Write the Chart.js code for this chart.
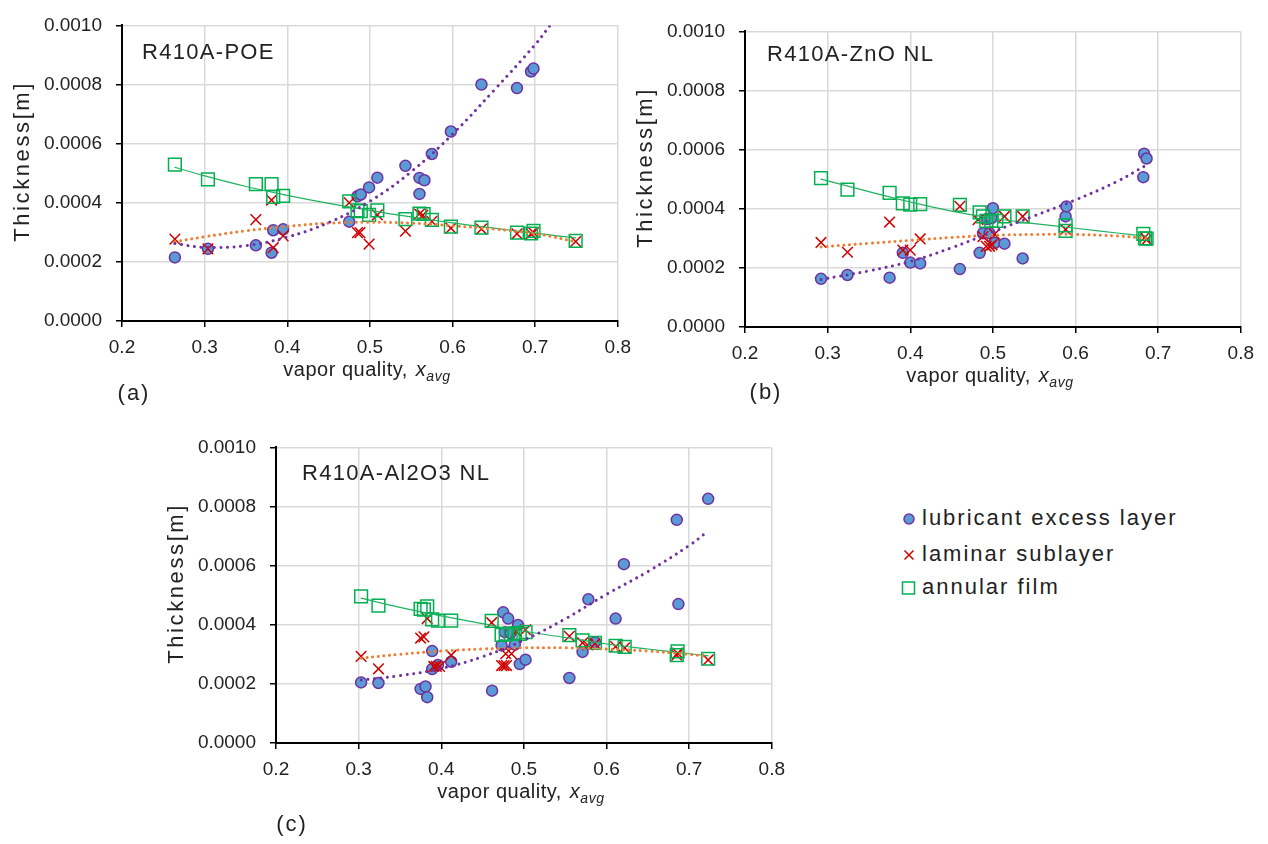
<!DOCTYPE html>
<html>
<head>
<meta charset="utf-8">
<script src="https://cdn.jsdelivr.net/npm/chart.js@4.4.1/dist/chart.umd.min.js"></script>
<style>
  body { margin: 0; width: 1268px; height: 844px; background: #fff; position: relative; overflow: hidden;
         font-family: "Liberation Sans", Arial, sans-serif; color: #222; }
  canvas { position: absolute; }
  #legend { position: absolute; left: 900px; top: 0; }
  #legend .row { position: absolute; left: 0; height: 26px; line-height: 26px; white-space: nowrap;
                 font-size: 22px; letter-spacing: 2px; }
  #legend svg { position: absolute; left: 0; top: 6px; }
  #legend span { position: absolute; left: 22px; top: 0; }
</style>
</head>
<body>
<canvas id="chartA" width="640" height="420" style="left:0px;top:0px"></canvas>
<canvas id="chartB" width="640" height="420" style="left:623px;top:6px"></canvas>
<canvas id="chartC" width="640" height="420" style="left:154px;top:422px"></canvas>

<div id="legend">
  <div class="row" style="top:505px"><svg width="16" height="16"><circle cx="9" cy="8" r="5" fill="#5b9bd5" stroke="#7030a0" stroke-width="1.5"/></svg><span>lubricant excess layer</span></div>
  <div class="row" style="top:541px"><svg width="16" height="16"><path d="M4.5 3.5 L13.5 12.5 M13.5 3.5 L4.5 12.5" stroke="#d00000" stroke-width="1.5"/></svg><span>laminar sublayer</span></div>
  <div class="row" style="top:574px"><svg width="16" height="16"><rect x="2.5" y="2" width="12" height="12" fill="none" stroke="#00b050" stroke-width="1.5"/></svg><span>annular film</span></div>
</div>

<script>
// ---- R410A-POE ----
const poeLubX = [0.264, 0.304, 0.362, 0.381, 0.383, 0.395, 0.475, 0.485, 0.489, 0.499, 0.509, 0.543, 0.560, 0.566, 0.560, 0.575, 0.598, 0.635, 0.678, 0.695, 0.698];
const poeLubY = [0.000215, 0.000244, 0.000256, 0.000231, 0.000307, 0.000310, 0.000336, 0.000422, 0.000428, 0.000452, 0.000485, 0.000525, 0.000484, 0.000476, 0.000430, 0.000565, 0.000641, 0.000800, 0.000788, 0.000844, 0.000854];
const poeLamX = [0.264, 0.304, 0.362, 0.381, 0.383, 0.395, 0.475, 0.485, 0.488, 0.499, 0.509, 0.543, 0.560, 0.564, 0.575, 0.598, 0.635, 0.678, 0.695, 0.698, 0.749];
const poeLamY = [0.000277, 0.000244, 0.000343, 0.000409, 0.000248, 0.000288, 0.000400, 0.000299, 0.000299, 0.000260, 0.000359, 0.000304, 0.000362, 0.000358, 0.000337, 0.000314, 0.000311, 0.000295, 0.000295, 0.000299, 0.000269];
const poeAnnX = [0.264, 0.304, 0.362, 0.381, 0.383, 0.395, 0.475, 0.485, 0.489, 0.499, 0.509, 0.543, 0.560, 0.565, 0.575, 0.598, 0.635, 0.678, 0.695, 0.698, 0.749];
const poeAnnY = [0.000529, 0.000479, 0.000463, 0.000463, 0.000420, 0.000423, 0.000405, 0.000374, 0.000372, 0.000359, 0.000374, 0.000345, 0.000363, 0.000362, 0.000342, 0.000319, 0.000316, 0.000299, 0.000296, 0.000305, 0.000271];
// trend lines
const poeLubFitX = [0.264, 0.30, 0.35, 0.40, 0.45, 0.50, 0.55, 0.60, 0.65, 0.70, 0.718];
const poeLubFitY = [0.000262, 0.000249, 0.000255, 0.000284, 0.000333, 0.000405, 0.000505, 0.000632, 0.000780, 0.000935, 0.001000];
const poeFitX = [0.264, 0.30, 0.35, 0.40, 0.45, 0.50, 0.55, 0.60, 0.65, 0.70, 0.749];
const poeLamFitY = [0.000268, 0.000285, 0.000305, 0.000320, 0.000331, 0.000334, 0.000331, 0.000322, 0.000311, 0.000296, 0.000268];
const poeAnnFitY = [0.000520, 0.000491, 0.000455, 0.000425, 0.000398, 0.000374, 0.000352, 0.000332, 0.000314, 0.000297, 0.000281];

// ---- R410A-ZnO NL ----
const znoLubX = [0.292, 0.324, 0.375, 0.391, 0.400, 0.412, 0.460, 0.484, 0.488, 0.493, 0.496, 0.498, 0.500, 0.502, 0.514, 0.536, 0.588, 0.589, 0.682, 0.683, 0.686];
const znoLubY = [0.000163, 0.000176, 0.000167, 0.000251, 0.000218, 0.000215, 0.000196, 0.000251, 0.000317, 0.000365, 0.000317, 0.000368, 0.000402, 0.000284, 0.000282, 0.000232, 0.000374, 0.000408, 0.000507, 0.000586, 0.000570];
const znoLamX = [0.292, 0.324, 0.375, 0.391, 0.400, 0.412, 0.460, 0.482, 0.488, 0.492, 0.496, 0.499, 0.502, 0.514, 0.536, 0.588, 0.684, 0.686];
const znoLamY = [0.000286, 0.000253, 0.000355, 0.000260, 0.000260, 0.000298, 0.000408, 0.000363, 0.000306, 0.000273, 0.000273, 0.000278, 0.000314, 0.000374, 0.000374, 0.000330, 0.000304, 0.000295];
const znoAnnX = [0.292, 0.324, 0.375, 0.391, 0.400, 0.412, 0.460, 0.484, 0.488, 0.492, 0.498, 0.504, 0.514, 0.536, 0.588, 0.588, 0.682, 0.684, 0.686];
const znoAnnY = [0.000504, 0.000465, 0.000454, 0.000418, 0.000414, 0.000416, 0.000413, 0.000388, 0.000374, 0.000359, 0.000359, 0.000359, 0.000374, 0.000374, 0.000344, 0.000325, 0.000315, 0.000300, 0.000299];
const znoFitX = [0.292, 0.35, 0.40, 0.45, 0.50, 0.55, 0.60, 0.65, 0.686];
const znoLubFitY = [0.000161, 0.000190, 0.000222, 0.000268, 0.000322, 0.000376, 0.000430, 0.000492, 0.000548];
const znoLamFitY = [0.000271, 0.000283, 0.000293, 0.000303, 0.000310, 0.000313, 0.000313, 0.000308, 0.000300];
const znoAnnFitY = [0.000500, 0.000458, 0.000423, 0.000392, 0.000368, 0.000350, 0.000334, 0.000318, 0.000307];

// ---- R410A-Al2O3 NL ----
const aloLubX = [0.303, 0.324, 0.375, 0.381, 0.383, 0.389, 0.389, 0.396, 0.412, 0.4615, 0.473, 0.475, 0.477, 0.481, 0.484, 0.489, 0.493, 0.495, 0.502, 0.555, 0.571, 0.578, 0.586, 0.611, 0.621, 0.685, 0.687, 0.723];
const aloLubY = [0.000205, 0.000203, 0.000183, 0.000191, 0.000155, 0.000311, 0.000250, 0.000264, 0.000275, 0.000177, 0.000330, 0.000442, 0.000375, 0.000421, 0.000372, 0.000333, 0.000399, 0.000267, 0.000282, 0.000220, 0.000308, 0.000486, 0.000341, 0.000421, 0.000605, 0.000755, 0.000470, 0.000826];
const aloLamX = [0.303, 0.324, 0.375, 0.379, 0.383, 0.391, 0.394, 0.398, 0.412, 0.461, 0.473, 0.476, 0.478, 0.479, 0.485, 0.491, 0.502, 0.555, 0.571, 0.577, 0.586, 0.611, 0.622, 0.685, 0.686, 0.723];
const aloLamY = [0.000293, 0.000251, 0.000355, 0.000359, 0.000421, 0.000259, 0.000259, 0.000259, 0.000297, 0.000407, 0.000262, 0.000262, 0.000302, 0.000262, 0.000302, 0.000377, 0.000383, 0.000361, 0.000339, 0.000332, 0.000336, 0.000326, 0.000322, 0.000297, 0.000304, 0.000281];
const aloAnnX = [0.303, 0.324, 0.375, 0.379, 0.383, 0.389, 0.396, 0.412, 0.461, 0.473, 0.478, 0.484, 0.489, 0.495, 0.502, 0.555, 0.571, 0.586, 0.611, 0.622, 0.685, 0.686, 0.723];
const aloAnnY = [0.000496, 0.000465, 0.000454, 0.000451, 0.000462, 0.000418, 0.000414, 0.000414, 0.000413, 0.000366, 0.000368, 0.000369, 0.000371, 0.000369, 0.000375, 0.000365, 0.000347, 0.000339, 0.000329, 0.000325, 0.000297, 0.000310, 0.000285];
const aloFitX = [0.303, 0.35, 0.40, 0.45, 0.50, 0.55, 0.60, 0.65, 0.70, 0.723];
const aloLubFitY = [0.000213, 0.000228, 0.000252, 0.000292, 0.000348, 0.000420, 0.000503, 0.000580, 0.000668, 0.000717];
const aloLamFitY = [0.000287, 0.000300, 0.000311, 0.000318, 0.000322, 0.000322, 0.000318, 0.000311, 0.000300, 0.000293];
const aloAnnFitY = [0.000490, 0.000459, 0.000430, 0.000404, 0.000378, 0.000357, 0.000335, 0.000318, 0.000302, 0.000295];

const xTicks = { min: 0.2, max: 0.8, step: 0.1 };
const yTicks = { min: 0, max: 0.001, step: 0.0002 };

const TEXT = '#222';
const FONT = '"Liberation Sans", Arial, sans-serif';

const pts = (xs, ys) => xs.map((x, i) => ({ x, y: ys[i] }));

// dotted / solid trend line through the read points
function fitLine(xs, ys, color, dotted, gap) {
  return {
    data: pts(xs, ys),
    showLine: true,
    borderColor: color,
    borderWidth: dotted ? 3 : 1.2,
    borderDash: dotted ? [0.01, gap] : [],
    borderCapStyle: 'round',
    pointRadius: 0,
    tension: 0.4
  };
}

function buildDatasets(p) {
  // index 0 is painted last, so trend lines go first and the circles last
  return [
    fitLine(p.lubFitX, p.lubFitY, '#7030a0', true, 6.6),
    fitLine(p.fitX, p.lamFitY, '#ed7d31', true, 5.7),
    fitLine(p.fitX, p.annFitY, '#1fb25f', false),
    {
      label: 'annular film', data: pts(p.annX, p.annY),
      pointStyle: 'rect', pointRadius: 9, borderColor: '#00b050',
      backgroundColor: 'rgba(0,0,0,0)', borderWidth: 1.5
    },
    {
      label: 'laminar sublayer', data: pts(p.lamX, p.lamY),
      pointStyle: 'crossRot', pointRadius: 7.5, borderColor: '#d00000', borderWidth: 1.5
    },
    {
      label: 'lubricant excess layer', data: pts(p.lubX, p.lubY),
      pointStyle: 'circle', pointRadius: 5.5, backgroundColor: '#5b9bd5',
      borderColor: '#7030a0', borderWidth: 1.5
    }
  ];
}

// titles, panel letter and the x_avg axis title drawn onto the canvas
const panelText = {
  id: 'panelText',
  afterDraw(chart, args, o) {
    const ctx = chart.ctx;
    const a = chart.chartArea;
    ctx.save();
    ctx.fillStyle = TEXT;

    ctx.font = '22px ' + FONT;
    ctx.letterSpacing = '1.3px';
    ctx.textAlign = 'left';
    ctx.textBaseline = 'alphabetic';
    ctx.fillText(o.inset, a.left + o.insetDx, a.top + o.insetDy);

    ctx.letterSpacing = '2px';
    ctx.textAlign = 'center';
    ctx.fillText(o.letter, o.letterX, o.letterY);

    // y title
    ctx.save();
    ctx.translate(a.left - 99, a.top + 136);
    ctx.rotate(-Math.PI / 2);
    ctx.letterSpacing = '2.6px';
    ctx.textBaseline = 'middle';
    ctx.fillText('Thickness[m]', 0, 0);
    ctx.restore();

    // x title with italic subscript
    ctx.textAlign = 'left';
    ctx.textBaseline = 'alphabetic';
    ctx.letterSpacing = '0.5px';
    const main = 'vapor quality, ';
    ctx.font = '20px ' + FONT;
    const w1 = ctx.measureText(main).width;
    ctx.font = 'italic 20px ' + FONT;
    const w2 = ctx.measureText('x').width;
    ctx.font = 'italic 14px ' + FONT;
    const w3 = ctx.measureText('avg').width;
    let x0 = (a.left + a.right) / 2 - 4 - (w1 + w2 + w3) / 2;
    const base = a.bottom + 55;
    ctx.font = '20px ' + FONT;
    ctx.fillText(main, x0, base);
    ctx.font = 'italic 20px ' + FONT;
    ctx.fillText('x', x0 + w1 + 2, base);
    ctx.font = 'italic 14px ' + FONT;
    ctx.fillText('avg', x0 + w1 + w2 + 2, base + 5);
    ctx.restore();
  }
};

function makeChart(id, p, text) {
  return new Chart(document.getElementById(id), {
    type: 'scatter',
    data: { datasets: buildDatasets(p) },
    options: {
      responsive: false,
      animation: false,
      devicePixelRatio: 1,
      events: [],
      layout: { padding: { top: 17, right: 22, left: 0, bottom: 0 } },
      plugins: {
        legend: { display: false },
        tooltip: { enabled: false },
        panelText: text
      },
      scales: {
        x: {
          type: 'linear',
          min: xTicks.min, max: xTicks.max,
          afterFit: (s) => { s.height = 99; },
          grid: { color: '#d9d9d9', lineWidth: 1.5, tickColor: '#000', tickLength: 6, tickWidth: 1.5 },
          border: { color: '#000', width: 2 },
          ticks: {
            stepSize: xTicks.step, maxRotation: 0, padding: 9, color: TEXT,
            font: { family: FONT, size: 19 },
            callback: (v) => v.toFixed(1)
          }
        },
        y: {
          type: 'linear',
          min: yTicks.min, max: yTicks.max,
          afterFit: (s) => { s.width = 122; },
          grid: { color: '#d9d9d9', lineWidth: 1.5, tickColor: '#000', tickLength: 6, tickWidth: 1.5 },
          border: { color: '#000', width: 2 },
          ticks: {
            stepSize: yTicks.step, padding: 14, color: TEXT,
            font: { family: FONT, size: 19 },
            callback: (v) => v.toFixed(4)
          }
        }
      }
    },
    plugins: [panelText]
  });
}

makeChart('chartA', {
  lubX: poeLubX, lubY: poeLubY, lamX: poeLamX, lamY: poeLamY, annX: poeAnnX, annY: poeAnnY,
  lubFitX: poeLubFitX, lubFitY: poeLubFitY, fitX: poeFitX, lamFitY: poeLamFitY, annFitY: poeAnnFitY
}, { inset: 'R410A-POE', insetDx: 20, insetDy: 34, letter: '(a)', letterX: 134, letterY: 400 });

makeChart('chartB', {
  lubX: znoLubX, lubY: znoLubY, lamX: znoLamX, lamY: znoLamY, annX: znoAnnX, annY: znoAnnY,
  lubFitX: znoFitX, lubFitY: znoLubFitY, fitX: znoFitX, lamFitY: znoLamFitY, annFitY: znoAnnFitY
}, { inset: 'R410A-ZnO NL', insetDx: 22, insetDy: 30, letter: '(b)', letterX: 143, letterY: 393 });

makeChart('chartC', {
  lubX: aloLubX, lubY: aloLubY, lamX: aloLamX, lamY: aloLamY, annX: aloAnnX, annY: aloAnnY,
  lubFitX: aloFitX, lubFitY: aloLubFitY, fitX: aloFitX, lamFitY: aloLamFitY, annFitY: aloAnnFitY
}, { inset: 'R410A-Al2O3 NL', insetDx: 26, insetDy: 33, letter: '(c)', letterX: 138, letterY: 409 });
</script>
</body>
</html>
